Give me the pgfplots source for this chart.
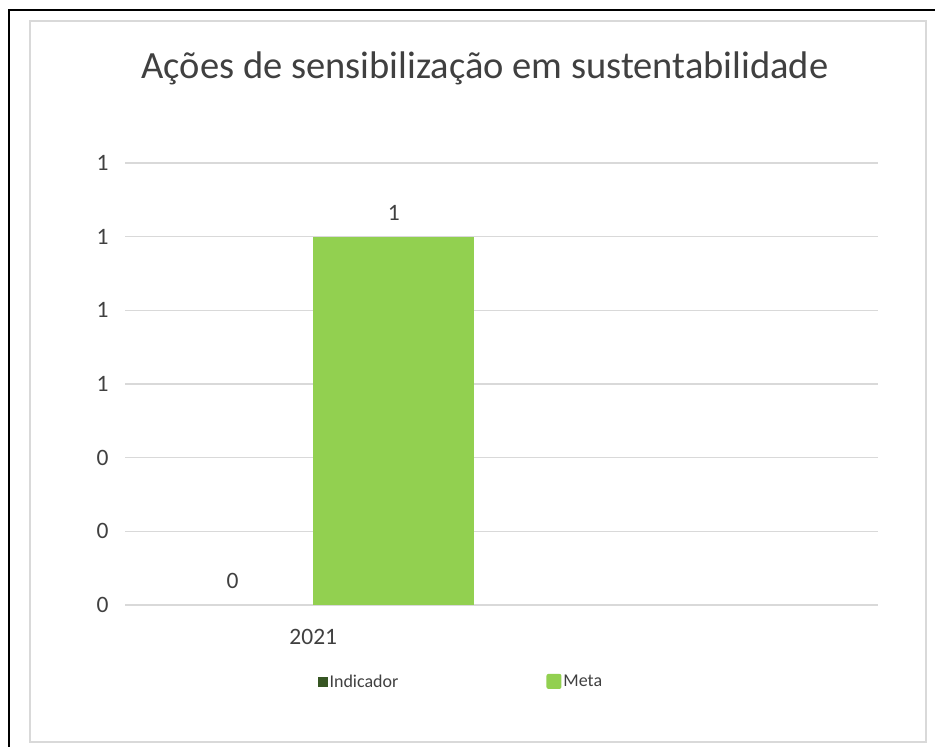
\documentclass[border=0pt]{standalone}
\usepackage{pgfplots}
\pgfplotsset{compat=1.18}
\usepackage{fontspec}
\setmainfont{Carlito}
\definecolor{txt}{HTML}{404040}
\definecolor{gridc}{HTML}{D9D9D9}
\definecolor{meta}{HTML}{92D050}
\definecolor{ind}{HTML}{375623}
\begin{document}
\begin{tikzpicture}
\path[use as bounding box] (0pt,0pt) rectangle (940pt,747pt);
\draw[black,line width=2pt] (9pt,0pt) -- (9pt,737pt) -- (935pt,737pt);
\draw[gridc,line width=1.3pt] (30pt,5pt) rectangle (926pt,726pt);
\node[anchor=base,text=txt,font=\fontsize{38.5}{44}\selectfont] at (485pt,668pt) {Ações de sensibilização em sustentabilidade};
\begin{axis}[
  at={(125pt,142pt)}, anchor=south west,
  scale only axis, width=753pt, height=442pt,
  ybar, bar width=0.428,
  xmin=-0.5, xmax=1.5, ymin=0, ymax=1.2,
  xtick={0}, xticklabels={2021},
  ytick={0,0.2,0.4,0.6,0.8,1.0,1.2},
  yticklabels={0,0,0,1,1,1,1},
  axis line style={draw=none},
  major tick length=0pt,
  ymajorgrids, grid style={gridc,line width=1.2pt},
  tick label style={text=txt,font=\fontsize{23.5}{28}\selectfont},
  yticklabel style={xshift=-13pt},
  xticklabel style={yshift=-21pt},
  clip=false,
  /pgf/number format/assume math mode=true,
  nodes near coords,
  every node near coord/.append style={anchor=south,inner sep=0pt,yshift=16pt,text=txt,font=\fontsize{23.5}{28}\selectfont},
  legend columns=2,
  legend style={at={(0.446,-0.174)},anchor=center,draw=none,fill=none,
    font=\fontsize{18}{21}\selectfont,text=txt,
    /tikz/every even column/.append style={column sep=146pt}},
  legend cell align=left,
]
\addplot[bar shift=-0.214,fill=none,draw=none,
  legend image code/.code={\fill[ind] (0pt,-5pt) rectangle (10pt,5pt);}]
  coordinates {(0,0)};
\addlegendentry{Indicador}
\addplot[bar shift=0.214,fill=meta,draw=none,
  legend image code/.code={\fill[meta,rounded corners=2pt] (-2pt,-7pt) rectangle (13pt,8pt);}]
  coordinates {(0,1)};
\addlegendentry{Meta}
\end{axis}
\end{tikzpicture}
\end{document}
